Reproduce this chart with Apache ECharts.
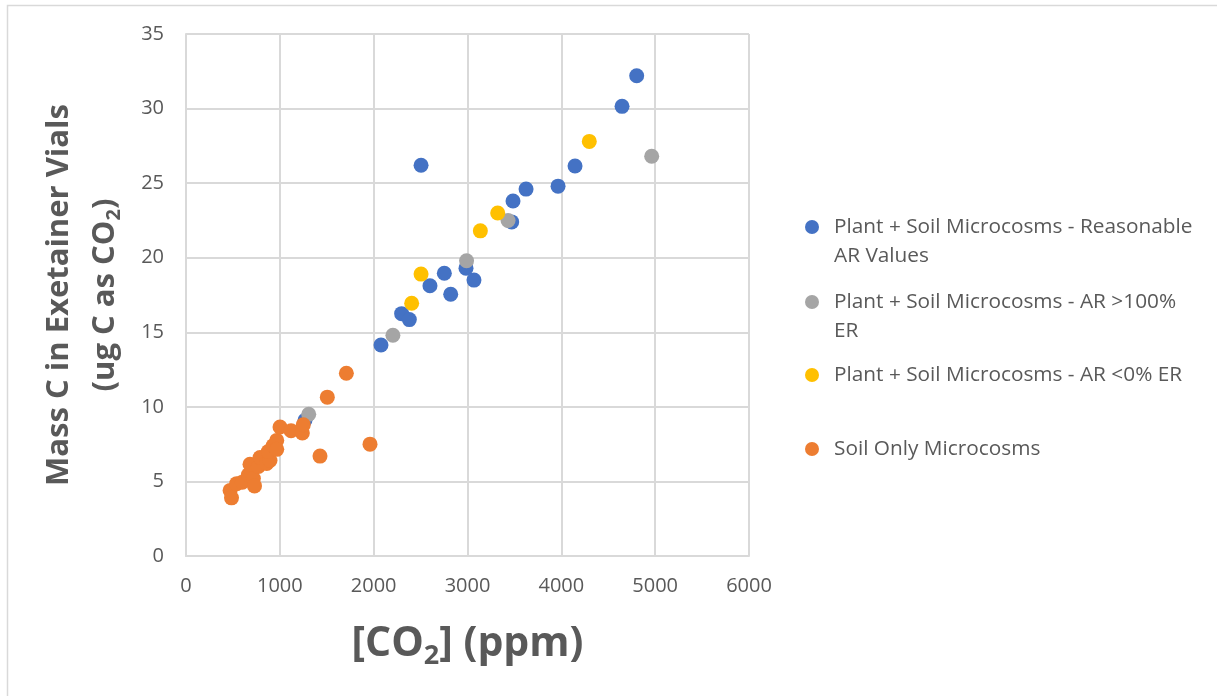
<!DOCTYPE html>
<html>
<head>
<meta charset="utf-8">
<script src="https://cdn.jsdelivr.net/npm/echarts@6/dist/echarts.min.js"></script>
<style>
html,body{margin:0;padding:0;background:#fff;}
#chart{width:1217px;height:696px;}
</style>
</head>
<body>
<div id="chart"></div>
<script>
// Series names
const seriesNames = [
  'Plant + Soil Microcosms - Reasonable AR Values',
  'Plant + Soil Microcosms - AR >100% ER',
  'Plant + Soil Microcosms - AR <0% ER',
  'Soil Only Microcosms'
];
// [CO2] (ppm), Mass C (ug C)
const reasonableX = [1268, 2078, 2298, 2380, 2600, 2753, 2821, 2984, 3069, 3471, 3485, 3624, 3965, 4146, 4647, 4803, 2505];
const reasonableY = [9.1, 14.15, 16.25, 15.85, 18.12, 18.96, 17.55, 19.3, 18.5, 22.4, 23.8, 24.6, 24.8, 26.15, 30.15, 32.2, 26.2];
const over100X = [1308, 2205, 2990, 3432, 4963];
const over100Y = [9.5, 14.8, 19.8, 22.5, 26.8];
const below0X = [2405, 2505, 3137, 3322, 4298];
const below0Y = [16.95, 18.9, 21.8, 23.0, 27.8];
const soilX = [470, 485, 540, 600, 664, 700, 718, 730, 682, 771, 789, 860, 895, 877, 930, 967, 967, 1002, 1120, 1240, 1250, 1428, 1506, 1709, 1961];
const soilY = [4.4, 3.9, 4.85, 4.95, 5.45, 5.6, 5.2, 4.7, 6.15, 6.0, 6.6, 6.2, 6.4, 7.0, 7.4, 7.75, 7.15, 8.65, 8.4, 8.25, 8.8, 6.7, 10.65, 12.25, 7.5];
const xTicks = [0, 1000, 2000, 3000, 4000, 5000, 6000];
const yTicks = [0, 5, 10, 15, 20, 25, 30, 35];

const colors = ['#4472C4', '#A5A5A5', '#FFC000', '#ED7D31'];
const pairs = (xs, ys) => xs.map((x, i) => [x, ys[i]]);
const seriesData = [
  pairs(reasonableX, reasonableY),
  pairs(over100X, over100Y),
  pairs(below0X, below0Y),
  pairs(soilX, soilY)
];

const FONT = '"Open Sans", "Noto Sans", sans-serif';
const txt = '#595959';
const gridColor = '#D9D9D9';

const legendTexts = [
  'Plant + Soil Microcosms - Reasonable\nAR Values',
  'Plant + Soil Microcosms - AR >100%\nER',
  'Plant + Soil Microcosms - AR <0% ER',
  'Soil Only Microcosms'
];
const legendIconY = [227, 302, 375, 449];
const LH = 29;

const legends = seriesNames.map((name, i) => {
  const twoLine = legendTexts[i].indexOf('\n') >= 0;
  const iconCenterOffset = twoLine ? (3 * LH) / 2 : LH / 2;
  return {
    data: [name],
    orient: 'vertical',
    left: 805,
    top: legendIconY[i] - iconCenterOffset,
    padding: 0,
    icon: 'circle',
    itemWidth: 14,
    itemHeight: 14,
    selectedMode: false,
    formatter: () => (twoLine ? ' \n' : '') + legendTexts[i],
    textStyle: {
      fontFamily: FONT,
      fontSize: 20.8,
      color: txt,
      lineHeight: LH,
      padding: [0, 0, 0, 10]
    }
  };
});

const chart = echarts.init(document.getElementById('chart'), null, {renderer: 'canvas'});
chart.setOption({
  animation: false,
  backgroundColor: '#ffffff',
  color: colors,
  textStyle: {fontFamily: FONT},
  grid: {left: 186, top: 34, width: 563, height: 522, containLabel: false},
  legend: legends,
  xAxis: {
    type: 'value',
    min: xTicks[0],
    max: xTicks[xTicks.length - 1],
    interval: 1000,
    name: '{a|[CO}{s|2}{a|] (ppm)}',
    nameLocation: 'middle',
    nameGap: 63,
    nameTextStyle: {
      rich: {
        a: {fontFamily: FONT, fontSize: 41, fontWeight: 'bold', color: txt},
        s: {fontFamily: FONT, fontSize: 27, fontWeight: 'bold', color: txt, padding: [24, 0, 0, 0]}
      }
    },
    axisLine: {show: true, lineStyle: {color: gridColor, width: 2}},
    axisTick: {show: false},
    axisLabel: {color: txt, fontSize: 20, fontFamily: FONT, margin: 20, formatter: v => String(v)},
    splitLine: {show: true, lineStyle: {color: gridColor, width: 2}}
  },
  yAxis: {
    type: 'value',
    min: yTicks[0],
    max: yTicks[yTicks.length - 1],
    interval: 5,
    name: '{a|Mass C in Exetainer Vials}\n{a|(ug C as CO}{s|2}{a|)}',
    nameLocation: 'middle',
    nameRotate: 90,
    nameGap: 58,
    nameTextStyle: {
      align: 'center',
      rich: {
        a: {fontFamily: FONT, fontSize: 31, fontWeight: 'bold', color: txt, lineHeight: 46, align: 'center'},
        s: {fontFamily: FONT, fontSize: 20, fontWeight: 'bold', color: txt, lineHeight: 46, padding: [18, 0, 0, 0]}
      }
    },
    axisLine: {show: true, lineStyle: {color: gridColor, width: 2}},
    axisTick: {show: false},
    axisLabel: {color: txt, fontSize: 20, fontFamily: FONT, margin: 22},
    splitLine: {show: true, lineStyle: {color: gridColor, width: 2}}
  },
  graphic: [{
    type: 'rect',
    shape: {x: 7.5, y: 5.5, width: 1230, height: 720},
    style: {fill: 'none', stroke: gridColor, lineWidth: 1.5},
    silent: true,
    z: -1
  }],
  series: seriesNames.map((name, i) => ({
    name: name,
    type: 'scatter',
    symbol: 'circle',
    symbolSize: 15,
    data: seriesData[i],
    itemStyle: {color: colors[i], opacity: 1},
    z: 2 + i
  }))
});
</script>
</body>
</html>
